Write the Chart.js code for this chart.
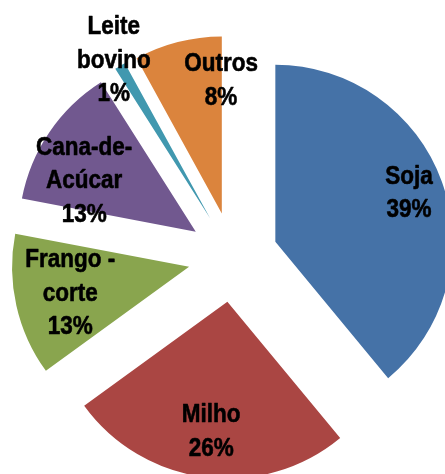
<!DOCTYPE html>
<html><head><meta charset="utf-8">
<script src="https://cdn.jsdelivr.net/npm/chart.js@4"></script>
<style>html,body{margin:0;padding:0;background:#fff;overflow:hidden}</style>
</head><body>
<canvas id="c" width="445" height="474"></canvas>
<script>
// ---- data ----
const categories = ["Soja", "Milho", "Frango - corte", "Cana-de-Acúcar", "Leite bovino", "Outros"];
const values = [39, 26, 13, 13, 1, 8];
const labelLines = [["Soja"], ["Milho"], ["Frango -", "corte"], ["Cana-de-", "Acúcar"], ["Leite", "bovino"], ["Outros"]];
const colors = ["#4572A7", "#AA4643", "#89A54E", "#71588F", "#4198AF", "#DB843D"];

// ---- style ----
const EXPLODE = 180;          // Chart.js offset (translation = offset / 4)
const R = 177;                // pie radius in px
const labelRadius = [0.807, 0.73, 0.686, 0.697, 1.053, 0.759];
const labelShiftDeg = [-0.8, 0, 0.8, -9, -0.5, 14.1];

// keep every slice at the same radius / exact angle despite the offset
const fixRadius = {
  id: 'fixRadius',
  afterDatasetUpdate(chart, args) {
    args.meta.data.forEach((arc) => {
      const o = EXPLODE / 4;
      const fix = 1 - Math.sin(Math.min(Math.PI, arc.circumference));
      const ro = o * fix;
      arc.outerRadius = R - ro;
      const delta = (ro / Math.PI) / R;
      arc.startAngle -= delta / 2;
      arc.endAngle += delta / 2;
    });
  }
};

const sliceLabels = {
  id: 'sliceLabels',
  afterDatasetsDraw(chart) {
    const ctx = chart.ctx;
    const arcs = chart.getDatasetMeta(0).data;
    ctx.save();
    ctx.fillStyle = '#000';
    ctx.strokeStyle = '#000';
    ctx.lineWidth = 0.6;
    ctx.lineJoin = 'round';
    ctx.font = 'bold 26px "Liberation Sans", Arial, sans-serif';
    ctx.textAlign = 'center';
    ctx.textBaseline = 'alphabetic';
    arcs.forEach((arc, i) => {
      const mid = (arc.startAngle + arc.endAngle) / 2;
      const t = EXPLODE / 4;
      const ax = arc.x + Math.cos(mid) * t, ay = arc.y + Math.sin(mid) * t;
      const a = mid + labelShiftDeg[i] * Math.PI / 180;
      const cx = ax + Math.cos(a) * labelRadius[i] * R;
      const cy = ay + Math.sin(a) * labelRadius[i] * R;
      const lines = [...labelLines[i], values[i] + '%'];
      const L = 33.5, cap = 18;
      const b1 = cy + cap / 2 - (lines.length - 1) * L / 2;
      lines.forEach((ln, k) => {
        ctx.save();
        ctx.translate(cx, b1 + k * L);
        ctx.scale(0.865, 1);
        ctx.fillText(ln, 0, 0);
        ctx.strokeText(ln, 0, 0);
        ctx.restore();
      });
    });
    ctx.restore();
  }
};

new Chart(document.getElementById('c'), {
  type: 'pie',
  data: {
    labels: categories,
    datasets: [{
      data: values,
      backgroundColor: colors,
      borderWidth: 0,
      offset: EXPLODE,
      hoverOffset: 0
    }]
  },
  options: {
    responsive: false,
    devicePixelRatio: 1,
    animation: false,
    events: [],
    radius: R,
    layout: { padding: { left: 21, top: 40, right: 0, bottom: 0 } },
    plugins: { legend: { display: false }, tooltip: { enabled: false } }
  },
  plugins: [fixRadius, sliceLabels]
});
</script>
</body></html>
